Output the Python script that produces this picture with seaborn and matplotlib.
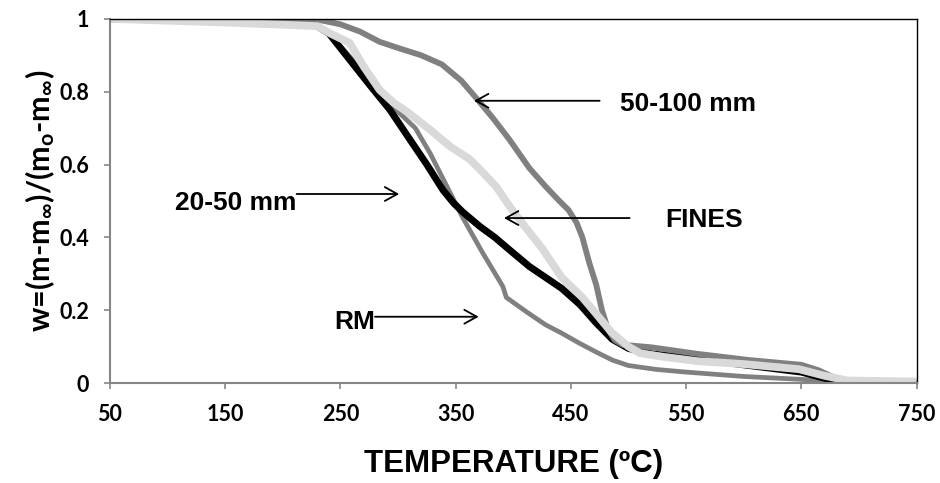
import numpy as np
import pandas as pd
import matplotlib
matplotlib.use("Agg")
import matplotlib.pyplot as plt
import seaborn as sns

sns.set_style("white")
plt.rcParams['font.family'] = ['Liberation Sans', 'DejaVu Sans']
plt.rcParams['text.color'] = 'black'
plt.rcParams['axes.labelcolor'] = 'black'
plt.rcParams['xtick.color'] = 'black'
plt.rcParams['ytick.color'] = 'black'
plt.rcParams['mathtext.fontset'] = 'custom'
plt.rcParams['mathtext.rm'] = 'Lato:bold'
plt.rcParams['mathtext.it'] = 'Lato:bold'

# ------------------------------------------------------------
# data (temperature in C, normalised mass w)
# ------------------------------------------------------------
rm_t = [50, 200, 230, 240, 250, 260, 280, 300, 315, 328, 340, 356, 373, 391, 394, 405, 414, 428, 442, 457, 472, 486, 500, 525, 550, 600, 650, 690, 750]
rm_w = [1.0, 0.995, 0.98, 0.96, 0.925, 0.89, 0.81, 0.745, 0.70, 0.63, 0.555, 0.455, 0.36, 0.265, 0.235, 0.21, 0.19, 0.16, 0.137, 0.11, 0.085, 0.063, 0.048, 0.037, 0.03, 0.018, 0.01, 0.002, 0.0]

mm20_t = [50, 200, 230, 240, 250, 260, 275, 293, 310, 325, 339, 348, 356, 371, 384, 397, 414, 428, 442, 458, 472, 486, 500, 520, 550, 600, 650, 680, 750]
mm20_w = [1.0, 0.995, 0.98, 0.96, 0.92, 0.88, 0.82, 0.75, 0.67, 0.60, 0.53, 0.495, 0.47, 0.43, 0.40, 0.365, 0.32, 0.29, 0.26, 0.215, 0.165, 0.12, 0.095, 0.08, 0.07, 0.05, 0.03, 0.005, 0.0]

mm50_t = [50, 200, 230, 250, 267, 284, 300, 320, 338, 355, 368, 383, 397, 414, 428, 440, 448, 455, 460, 466, 472, 477, 482, 488, 495, 520, 560, 605, 650, 665, 682, 695, 750]
mm50_w = [1.0, 1.0, 0.998, 0.985, 0.965, 0.937, 0.92, 0.90, 0.875, 0.83, 0.782, 0.725, 0.667, 0.59, 0.54, 0.50, 0.475, 0.44, 0.40, 0.33, 0.27, 0.2, 0.15, 0.118, 0.105, 0.098, 0.08, 0.063, 0.05, 0.035, 0.01, 0.002, 0.0]

fines_t = [50, 150, 230, 241, 258, 270, 284, 296, 310, 328, 345, 362, 370, 385, 398, 410, 425, 442, 460, 472, 485, 500, 510, 530, 560, 600, 648, 670, 690, 750]
fines_w = [1.0, 0.99, 0.98, 0.96, 0.934, 0.87, 0.805, 0.77, 0.74, 0.695, 0.65, 0.615, 0.59, 0.54, 0.48, 0.43, 0.37, 0.29, 0.235, 0.19, 0.14, 0.10, 0.082, 0.072, 0.06, 0.052, 0.038, 0.02, 0.007, 0.004]

x_ticks = [50, 150, 250, 350, 450, 550, 650, 750]
y_ticks = [0, 0.2, 0.4, 0.6, 0.8, 1]

# ------------------------------------------------------------
# plot
# ------------------------------------------------------------
fig = plt.figure(figsize=(9.4, 4.83), dpi=100)
ax = fig.add_axes([0.117, 0.207, 0.858, 0.754])

series = [
    (rm_t, rm_w, '#808080', 3.4),
    (mm20_t, mm20_w, '#000000', 5.0),
    (mm50_t, mm50_w, '#808080', 4.2),
    (fines_t, fines_w, '#d9d9d9', 5.6),
]
for t, w, col, lw in series:
    df = pd.DataFrame({'T': t, 'w': w})
    sns.lineplot(data=df, x='T', y='w', color=col, linewidth=lw, ax=ax,
                 solid_capstyle='butt', solid_joinstyle='round')

ax.set_xlim(50, 750)
ax.set_ylim(0, 1)
ax.set_xticks(x_ticks)
ax.set_yticks(y_ticks)
ax.set_xticklabels([str(v) for v in x_ticks])
ax.set_yticklabels(['{:g}'.format(v) for v in y_ticks])

for lab in ax.get_xticklabels() + ax.get_yticklabels():
    lab.set_fontfamily('Lato')
    lab.set_fontweight('bold')
    lab.set_fontsize(15.5)

ax.tick_params(axis='both', direction='out', length=4, width=1.2,
               color='#868686', pad=11, bottom=True, left=True)

for side in ['left', 'bottom']:
    ax.spines[side].set_color('#868686')
    ax.spines[side].set_linewidth(1.5)
for side in ['top', 'right']:
    ax.spines[side].set_color('black')
    ax.spines[side].set_linewidth(1.0)

ax.set_xlabel('TEMPERATURE (ºC)', fontsize=22.5, fontweight='bold')
ax.set_ylabel(r'w=(m-m$_{\infty}$)/(m$_{o}$-m$_{\infty}$)', fontsize=22,
              fontweight='bold', family='Lato')
ax.xaxis.set_label_coords(0.5, -0.18)
ax.yaxis.set_label_coords(-0.066, 0.5)

# annotations: text + arrow
arrow_kw = dict(arrowstyle='->,head_length=0.45,head_width=0.25', lw=1.3,
                color='black', shrinkA=0, shrinkB=0, mutation_scale=20)
ax.annotate('', xy=(366, 0.775), xytext=(475, 0.775), arrowprops=arrow_kw)
ax.text(493, 0.767, '50-100 mm', fontsize=19, fontweight='bold', va='center', ha='left')

ax.annotate('', xy=(392, 0.453), xytext=(501, 0.453), arrowprops=arrow_kw)
ax.text(532, 0.448, 'FINES', fontsize=19, fontweight='bold', va='center', ha='left')

ax.annotate('', xy=(301, 0.519), xytext=(212, 0.519), arrowprops=arrow_kw)
ax.text(212, 0.495, '20-50 mm', fontsize=19, fontweight='bold', va='center', ha='right')

ax.annotate('', xy=(370, 0.182), xytext=(280, 0.182), arrowprops=arrow_kw)
ax.text(280, 0.168, 'RM', fontsize=19, fontweight='bold', va='center', ha='right')

fig.savefig('out.png', dpi=100)
